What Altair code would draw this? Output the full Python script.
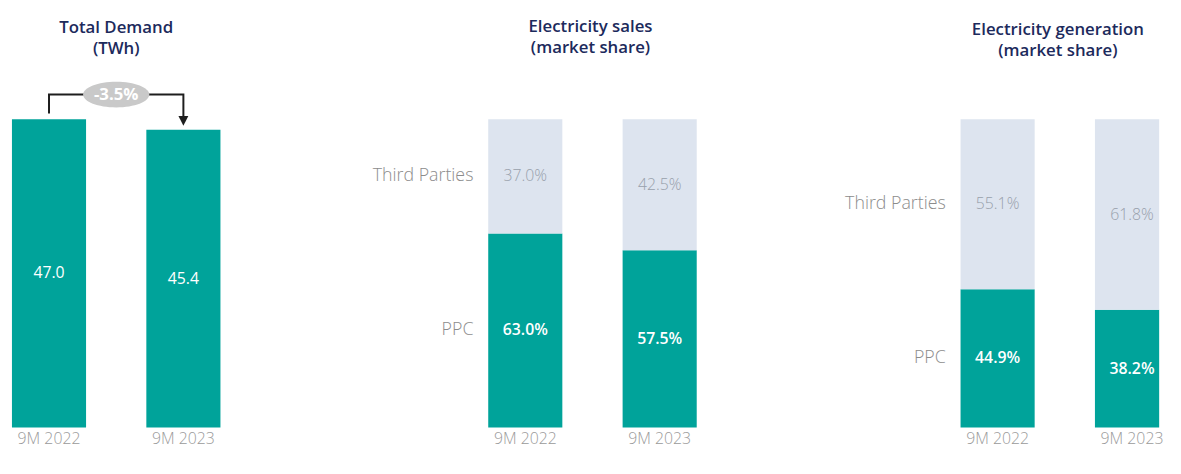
import altair as alt
import pandas as pd

# ---------------- data ----------------
periods = ["9M 2022", "9M 2023"]
demand_twh = [47.0, 45.4]
demand_change = "-3.5%"
segments = ["PPC", "Third Parties"]
sales_ppc = [63.0, 57.5]
sales_third = [37.0, 42.5]
gen_ppc = [44.9, 38.2]
gen_third = [55.1, 61.8]
titles = [
    ["Total Demand", "(TWh)"],
    ["Electricity sales", "(market share)"],
    ["Electricity generation", "(market share)"],
]

# ---------------- style ----------------
TEAL = "#00A39A"
LIGHT = "#DDE4EF"
NAVY = "#1C2A5C"
ROW_GREY = "#8C8C8C"
VAL_GREY = "#98A0AB"
AX_GREY = "#9A9A9A"
FONT = "Open Sans"

PLOT_H = 312
PLOT_W = 219
STEP = 136
BAR_W = 75


def x_enc(band=None, rng=None):
    kw = {}
    if band is not None:
        kw["bandPosition"] = band
    skw = {}
    if rng is not None:
        skw["range"] = rng
    return alt.X(
        "period:N",
        sort=periods,
        scale=alt.Scale(paddingInner=(STEP - BAR_W) / STEP, paddingOuter=4 / STEP, **skw),
        axis=alt.Axis(
            title=None, domain=False, ticks=False, grid=False, labelAngle=0,
            labelFontSize=16, labelColor=AX_GREY, labelFont=FONT,
            labelFontWeight=300, labelPadding=3,
        ),
        **kw,
    )


def title(lines, offset):
    return alt.TitleParams(
        text=lines, frame="group", anchor="middle", fontSize=17, font=FONT,
        fontWeight=600, color=NAVY, lineHeight=21, offset=offset,
    )


# ---------------- panel 1: total demand ----------------
d1 = pd.DataFrame({"period": periods, "value": demand_twh})
d1["mid"] = d1["value"] / 2
d1["label"] = d1["value"].map(lambda v: f"{v:.1f}")

u = max(demand_twh) / PLOT_H          # data units per pixel
top_v = max(demand_twh) + 25 * u
bracket = pd.DataFrame({
    "period": [periods[0], periods[0], periods[1], periods[1]],
    "y": [demand_twh[0] + 6 * u, top_v, top_v, demand_twh[1] + 13 * u],
    "i": [0, 1, 2, 3],
})
arrow = pd.DataFrame({"period": [periods[1]], "y": [demand_twh[1] + 9 * u]})
badge = pd.DataFrame({"period": [periods[0]], "y": [top_v], "label": [demand_change]})

# badge sits halfway between the bar centres: (STEP - BAR_W)/2 px right of bar 1's right edge
GAP_HALF = (STEP - BAR_W) / 2
ELL_RX = 33.5
shift = GAP_HALF / ELL_RX
ell_path = (
    f"M{shift - 1:.4f},0A1,0.39,0,1,0,{shift + 1:.4f},0"
    f"A1,0.39,0,1,0,{shift - 1:.4f},0Z"
)

y1 = alt.Scale(domain=[0, max(demand_twh)], nice=False)

bars1 = alt.Chart(d1).mark_bar(color=TEAL).encode(
    x=x_enc(), y=alt.Y("value:Q", scale=y1, axis=None)
)
txt1 = alt.Chart(d1).mark_text(color="white", fontSize=16, font=FONT).encode(
    x=x_enc(), y=alt.Y("mid:Q", scale=y1), text="label:N"
)
line1 = alt.Chart(bracket).mark_line(color="#1E1E1E", strokeWidth=2).encode(
    x=x_enc(), y=alt.Y("y:Q", scale=y1), order="i:Q"
)
head1 = alt.Chart(arrow).mark_point(
    shape="M-1,-1L1,-1L0,1Z", filled=True, color="#1E1E1E", opacity=1, size=100
).encode(x=x_enc(), y=alt.Y("y:Q", scale=y1))
ell1 = alt.Chart(badge).mark_point(
    shape=ell_path, filled=True, color="#C9C9C9", opacity=1, size=(2 * ELL_RX) ** 2,
).encode(x=x_enc(1), y=alt.Y("y:Q", scale=y1))
btxt1 = alt.Chart(badge).mark_text(
    color="white", fontSize=17, fontWeight="bold", font=FONT, dx=GAP_HALF
).encode(x=x_enc(1), y=alt.Y("y:Q", scale=y1), text="label:N")

p1 = alt.layer(bars1, txt1, line1, head1, ell1, btxt1).properties(
    width=PLOT_W, height=PLOT_H, title=title(titles[0], 24)
)


# ---------------- share panels ----------------
def share_panel(ppc, third, lines, offset, rng, width, cut_last=False):
    rows = []
    for i, p in enumerate(periods):
        rows.append({"period": p, "segment": segments[0], "value": ppc[i],
                     "lo": 0.0, "hi": ppc[i]})
        rows.append({"period": p, "segment": segments[1], "value": third[i],
                     "lo": ppc[i], "hi": ppc[i] + third[i]})
    df = pd.DataFrame(rows)
    df["mid"] = (df["lo"] + df["hi"]) / 2
    df["label"] = df["value"].map(lambda v: f"{v:.1f}%")
    ys = alt.Scale(domain=[0, 100], nice=False)
    base = alt.Chart(df)
    col = alt.Color("segment:N", scale=alt.Scale(domain=segments, range=[TEAL, LIGHT]), legend=None)
    layers = []
    if cut_last:
        # last bar runs into the right edge of the page, as in the original slide
        layers.append(base.transform_filter(alt.datum.period != periods[-1]).mark_bar().encode(
            x=x_enc(rng=rng), y=alt.Y("lo:Q", scale=ys, axis=None), y2="hi:Q", color=col))
        layers.append(base.transform_filter(alt.datum.period == periods[-1]).mark_bar().encode(
            x=x_enc(0, rng=rng), x2=alt.value("width"),
            y=alt.Y("lo:Q", scale=ys, axis=None), y2="hi:Q", color=col))
    else:
        layers.append(base.mark_bar().encode(
            x=x_enc(rng=rng), y=alt.Y("lo:Q", scale=ys, axis=None), y2="hi:Q", color=col))
    ppc_t = base.transform_filter(alt.datum.segment == segments[0]).mark_text(
        color="white", fontSize=16, fontWeight=600, font=FONT
    ).encode(x=x_enc(rng=rng), y=alt.Y("mid:Q", scale=ys), text="label:N")
    thr_t = base.transform_filter(alt.datum.segment == segments[1]).mark_text(
        color=VAL_GREY, fontSize=16, fontWeight=300, font=FONT
    ).encode(x=x_enc(rng=rng), y=alt.Y("mid:Q", scale=ys), text="label:N")
    rlab = base.transform_filter(alt.datum.period == periods[0]).mark_text(
        color=ROW_GREY, fontSize=18, fontWeight=300, font=FONT, align="right", dx=-15
    ).encode(x=x_enc(0, rng=rng), y=alt.Y("mid:Q", scale=ys), text="segment:N")
    return alt.layer(*layers, ppc_t, thr_t, rlab).properties(
        width=width, height=PLOT_H, title=title(lines, offset)
    )


p2 = share_panel(sales_ppc, sales_third, titles[1], 63, [2, PLOT_W + 2], PLOT_W)
p3 = share_panel(gen_ppc, gen_third, titles[2], 60, [0, PLOT_W], 205, cut_last=True)

chart = alt.hconcat(p1, p2, p3, spacing=261, bounds="flush").properties(
    padding={"left": 0, "top": 8, "right": 0, "bottom": 0},
    background="white",
).configure_view(stroke=None, strokeWidth=0).configure_axis(grid=False)

chart.save("out.html", embed_options={"renderer": "svg", "actions": False})
